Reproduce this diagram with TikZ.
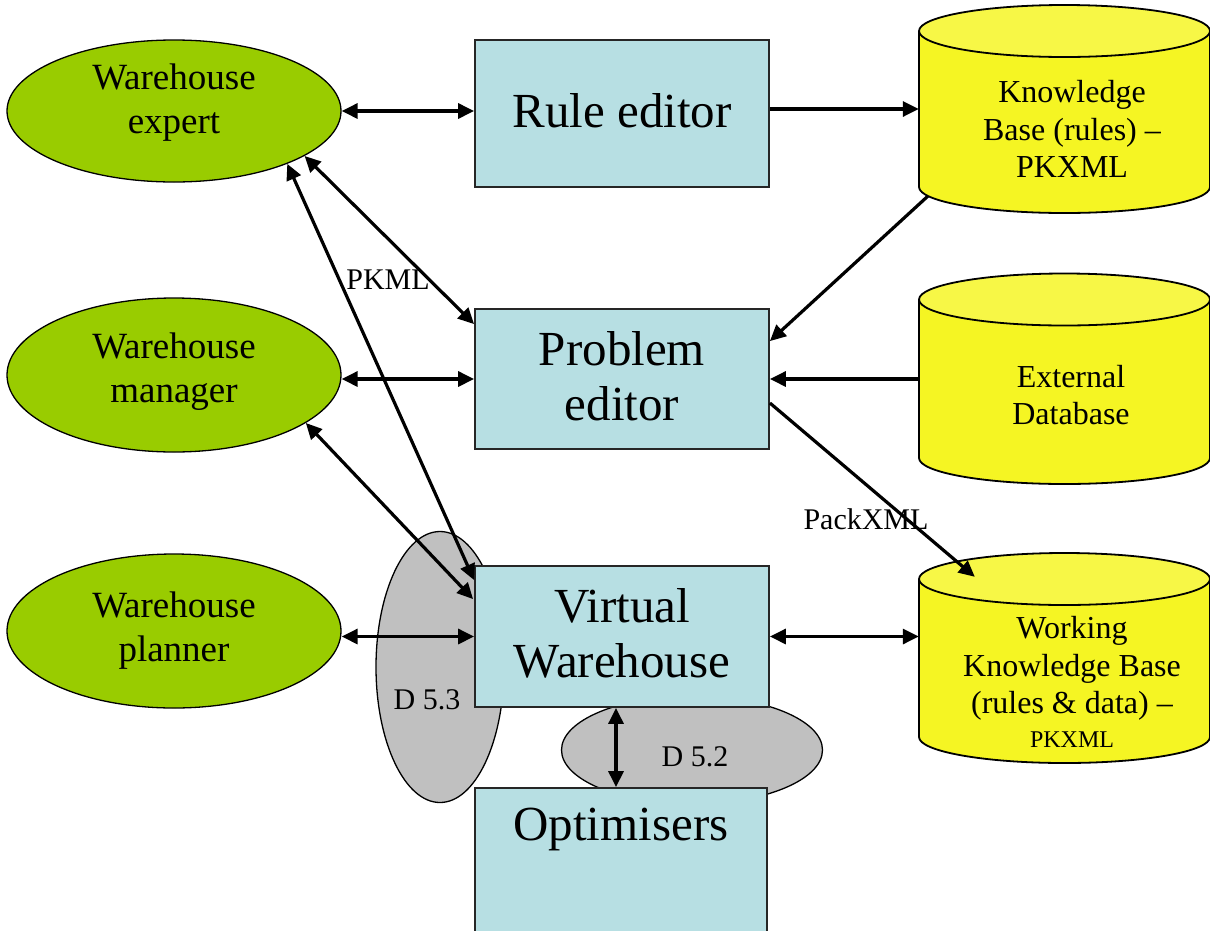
\documentclass[tikz,border=0pt]{standalone}
\usepackage{fontspec}
\setmainfont{Liberation Serif}
\usetikzlibrary{shapes.geometric,arrows.meta,calc}
\definecolor{actorgreen}{RGB}{153,204,0}
\definecolor{toolblue}{RGB}{183,223,227}
\definecolor{dbyellow}{RGB}{245,245,35}
\definecolor{dbtop}{RGB}{247,247,70}
\definecolor{delgray}{RGB}{192,192,192}
\newcommand\drawcylinder[3]{% cx, y top-ellipse centre, y bottom-ellipse centre
  \filldraw[fill=dbyellow,draw=black,line width=1.8pt] (#1,#3) ellipse [x radius=145.5pt,y radius=26pt];
  \fill[dbyellow] (#1-145.5,#2) rectangle (#1+145.5,#3);
  \draw[line width=1.8pt] (#1-145.5,#2) -- (#1-145.5,#3) (#1+145.5,#2) -- (#1+145.5,#3);
  \filldraw[fill=dbtop,draw=black,line width=1.8pt] (#1,#2) ellipse [x radius=145.5pt,y radius=26pt];
}
\begin{document}
\begin{tikzpicture}[x=1pt,y=-1pt,
  actor/.style={ellipse,draw=black,line width=1.3pt,fill=actorgreen,minimum width=334pt,inner sep=0pt},
  toolbox/.style={rectangle,draw=black!85,line width=1.8pt,fill=toolblue,minimum width=294pt,inner sep=0pt},
  bigtext/.style={align=center,font=\fontsize{49}{55}\selectfont},
  actortext/.style={align=center,font=\fontsize{37}{44}\selectfont},
  dbtext/.style={align=center,font=\fontsize{32}{37.5}\selectfont},
  smalltext/.style={font=\fontsize{30}{34}\selectfont,inner sep=0pt},
  dbnode/.style={rectangle,inner sep=0pt,minimum width=291pt,minimum height=210pt},
  deliv/.style={ellipse,draw=black,line width=1.3pt,fill=delgray,inner sep=0pt},
  tip/.tip={Triangle[length=16pt,width=15pt]},
  conn/.style={line width=3.2pt,-tip},
  biconn/.style={line width=3.2pt,tip-tip}]
\clip (0,0) rectangle (1210,930);
\fill[white] (0,0) rectangle (1210,930);

% deliverable ellipses (background)
\node[deliv,minimum width=128pt,minimum height=271pt] (d53) at (440,667) {};
\node[deliv,minimum width=261pt,minimum height=108pt] (d52) at (692,750) {};

% actors
\node[actor,minimum height=142pt] (expert) at (174,111) {};
\node[actortext] (expertT) at (174,103) {Warehouse\\expert};
\node[actor,minimum height=154pt] (manager) at (174,375) {};
\node[actortext] (managerT) at (174,372) {Warehouse\\manager};
\node[actor,minimum height=154pt] (planner) at (174,631) {};
\node[actortext] (plannerT) at (174,631) {Warehouse\\planner};

% tools
\node[toolbox,minimum height=147pt] (rule) at (622,113.5) {};
\node[bigtext] (ruleT) at (622,111) {Rule editor};
\node[toolbox,minimum height=140pt] (prob) at (622,379) {};
\node[bigtext] (probT) at (622,376) {Problem\\editor};
\node[toolbox,minimum height=141pt] (vw) at (622,636.5) {};
\node[bigtext] (vwT) at (622,633) {Virtual\\Warehouse};
\node[toolbox,minimum width=292pt,minimum height=170pt] (opt) at (621,873) {};
\node[bigtext] (optT) at (621,829) {Optimisers};

% databases
\drawcylinder{1064.5}{31}{187}
\node[dbnode] (kb) at (1064.5,109) {};
\node[dbtext] (kbT) at (1072,129) {Knowledge\\Base (rules) --\\PKXML};
\drawcylinder{1064.5}{299.5}{458}
\node[dbnode] (ext) at (1064.5,379) {};
\node[dbtext] (extT) at (1071,395) {External\\Database};
\drawcylinder{1064.5}{579}{737}
\node[dbnode] (wkb) at (1064.5,658) {};
\node[dbtext] (wkbT) at (1072,682) {Working\\Knowledge Base\\(rules \& data) --\\[-4pt]{\fontsize{24}{28}\selectfont PKXML}};

% labels
\node[smalltext] (d53T) at (427,700) {D 5.3};
\node[smalltext] (d52T) at (695,757) {D 5.2};
\node[smalltext] (pkml) at (388,280) {PKML};
\node[smalltext] (packxml) at (866,519) {PackXML};

% connectors
\draw[biconn] (expert.east) -- (expert.east -| rule.west);
\draw[conn] (rule.east |- kb.west) -- (kb.west);
\draw[biconn] (expert.-19) -- ($(prob.north west)+(0,16)$);
\draw[biconn] (expert.-25) -- ($(vw.north west)+(0,15)$);
\draw[biconn] (prob.west -| manager.east) -- (prob.west);
\draw[biconn] (manager.-20) -- ($(vw.north west)+(-1,34)$);
\draw[conn] ($(kb.south west)+(9,-18)$) -- ($(prob.north east)+(0,33)$);
\draw[conn] (ext.west |- prob.east) -- (prob.east);
\draw[conn] ($(prob.east)+(0,24)$) -- ($(wkb.north west)+(56,24)$);
\draw[biconn] (vw.west -| planner.east) -- (vw.west);
\draw[biconn] (vw.east) -- (vw.east -| wkb.west);
\draw[biconn] ($(vw.south)+(-6,0)$) -- ($(opt.north)+(-5,0)$);
\end{tikzpicture}
\end{document}
